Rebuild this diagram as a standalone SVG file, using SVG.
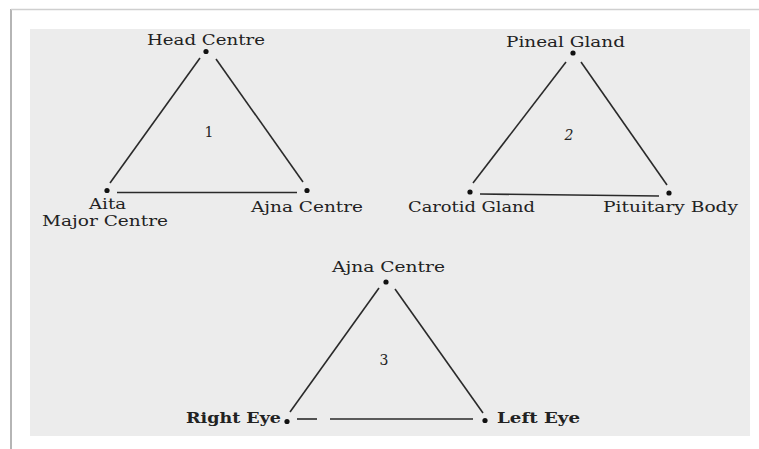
<svg xmlns="http://www.w3.org/2000/svg" width="759" height="449" viewBox="0 0 759 449">
<style>
.lbl{font-family:"DejaVu Serif","Liberation Serif",serif;font-size:15px;fill:#222;}
.num{font-family:"DejaVu Serif","Liberation Serif",serif;font-size:14px;fill:#222;}
.b{font-weight:bold;}
.edge{stroke:#2a2a2a;stroke-width:1.6;fill:none;}
.dot{fill:#111;}
</style>
<rect width="759" height="449" fill="#ffffff"/>
<line x1="11" y1="9" x2="11" y2="449" stroke="#b5b5b5" stroke-width="2"/>
<line x1="11" y1="9.5" x2="759" y2="9.5" stroke="#cfcfcf" stroke-width="1.5"/>
<rect x="30" y="29" width="720" height="407" fill="#ececec"/>
<g id="connectors">
<line class="edge" x1="200" y1="58" x2="110" y2="183"/>
<line class="edge" x1="216" y1="59" x2="303" y2="182"/>
<line class="edge" x1="117" y1="192.5" x2="297" y2="192.5"/>
<line class="edge" x1="566" y1="62" x2="473" y2="183"/>
<line class="edge" x1="581" y1="62" x2="667" y2="185"/>
<line class="edge" x1="480" y1="194" x2="659" y2="196"/>
<line class="edge" x1="379" y1="288" x2="290" y2="412"/>
<line class="edge" x1="395" y1="289" x2="483" y2="413"/>
<line class="edge" x1="297" y1="419" x2="317" y2="419"/>
<line class="edge" x1="330" y1="419" x2="473" y2="419"/>
</g>
<g id="t1-head"><circle class="dot" cx="206" cy="51.5" r="2.6"/><text class="lbl" x="147" y="45" textLength="118" lengthAdjust="spacingAndGlyphs">Head Centre</text></g>
<g id="t1-aita"><circle class="dot" cx="107" cy="190.5" r="2.6"/><text class="lbl" x="89" y="209" textLength="37" lengthAdjust="spacingAndGlyphs">Aita</text><text class="lbl" x="42" y="226" textLength="126" lengthAdjust="spacingAndGlyphs">Major Centre</text></g>
<g id="t1-ajna"><circle class="dot" cx="307" cy="190.5" r="2.6"/><text class="lbl" x="251" y="212" textLength="112" lengthAdjust="spacingAndGlyphs">Ajna Centre</text></g>
<g id="t1-num"><text class="num" x="209" y="137" text-anchor="middle">1</text></g>
<g id="t2-pineal"><circle class="dot" cx="573" cy="53" r="2.6"/><text class="lbl" x="506" y="47" textLength="119" lengthAdjust="spacingAndGlyphs">Pineal Gland</text></g>
<g id="t2-carotid"><circle class="dot" cx="470" cy="192" r="2.6"/><text class="lbl" x="408" y="212" textLength="127" lengthAdjust="spacingAndGlyphs">Carotid Gland</text></g>
<g id="t2-pituitary"><circle class="dot" cx="669" cy="193" r="2.6"/><text class="lbl" x="603" y="212" textLength="135" lengthAdjust="spacingAndGlyphs">Pituitary Body</text></g>
<g id="t2-num"><text class="num" x="569" y="140" text-anchor="middle" font-style="italic">2</text></g>
<g id="t3-ajna"><circle class="dot" cx="386" cy="282" r="2.6"/><text class="lbl" x="332" y="272" textLength="113" lengthAdjust="spacingAndGlyphs">Ajna Centre</text></g>
<g id="t3-right"><circle class="dot" cx="287" cy="421.5" r="2.6"/><text class="lbl b" x="186" y="423" textLength="95" lengthAdjust="spacingAndGlyphs">Right Eye</text></g>
<g id="t3-left"><circle class="dot" cx="485" cy="420.5" r="2.6"/><text class="lbl b" x="497" y="423" textLength="83" lengthAdjust="spacingAndGlyphs">Left Eye</text></g>
<g id="t3-num"><text class="num" x="384" y="365" text-anchor="middle">3</text></g>
</svg>
